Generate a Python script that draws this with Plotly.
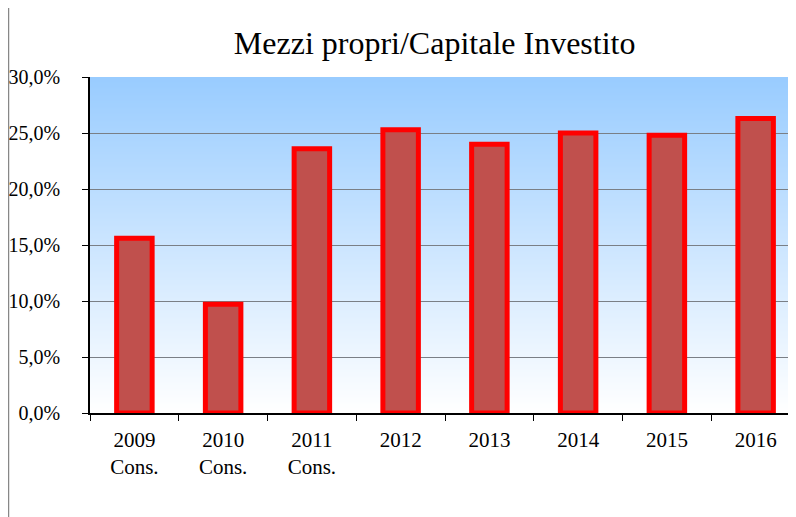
import base64
import struct
import zlib

import plotly.graph_objects as go

# dati
anni = ["2009<br>Cons.", "2010<br>Cons.", "2011<br>Cons.", "2012", "2013", "2014", "2015", "2016"]
rapporto = [15.6, 9.7, 23.6, 25.3, 24.0, 25.0, 24.8, 26.3]
tick_vals = [0, 5, 10, 15, 20, 25, 30]
tick_text = [f"{v:.1f}%".replace(".", ",") for v in tick_vals]


def gradient_png(top, bottom, h=256):
    """PNG 1xh con sfumatura verticale (per lo sfondo dell'area del grafico)"""
    raw = b""
    for i in range(h):
        t = i / (h - 1)
        px = bytes(round(top[k] + (bottom[k] - top[k]) * t) for k in range(3))
        raw += b"\x00" + px

    def chunk(tag, data):
        c = struct.pack(">I", len(data)) + tag + data
        return c + struct.pack(">I", zlib.crc32(tag + data) & 0xFFFFFFFF)

    png = b"\x89PNG\r\n\x1a\n"
    png += chunk(b"IHDR", struct.pack(">IIBBBBB", 1, h, 8, 2, 0, 0, 0))
    png += chunk(b"IDAT", zlib.compress(raw))
    png += chunk(b"IEND", b"")
    return "data:image/png;base64," + base64.b64encode(png).decode()


fig = go.Figure()

fig.add_trace(
    go.Bar(
        x=anni, y=rapporto,
        marker=dict(color="#C0504D", line=dict(color="#FF0000", width=5)),
        showlegend=False,
        hovertemplate="%{y:.1f}%<extra></extra>",
    )
)

font = "Liberation Serif, Times New Roman, serif"

# la pagina ha 8px di margine nel body: il grafico parte da (8, 8)
fig.update_layout(
    width=796, height=517,
    margin=dict(l=82, r=4, t=69, b=112),
    paper_bgcolor="white",
    plot_bgcolor="rgba(0,0,0,0)",
    bargap=0.6,
    font=dict(family=font, color="black", size=21),
    title=dict(
        text="Mezzi propri/Capitale Investito",
        x=0.536, xanchor="center", xref="container",
        y=1 - 35 / 517, yanchor="middle",
        font=dict(family=font, size=32, color="black"),
    ),
    images=[dict(
        source=gradient_png((153, 204, 255), (255, 255, 255)),
        xref="paper", yref="paper", x=0, y=1, sizex=1, sizey=1,
        sizing="stretch", xanchor="left", yanchor="top", layer="below",
    )],
    shapes=[dict(
        type="line", xref="paper", yref="paper",
        x0=-0.1148, x1=-0.1148, y0=-0.5, y1=1.3,
        line=dict(color="#878787", width=1.5),
    )],
)

fig.update_yaxes(
    range=[0, 30], tickvals=tick_vals, ticktext=tick_text,
    showgrid=True, gridcolor="#7a7f86", gridwidth=1.2,
    showline=True, linecolor="black", linewidth=1.5,
    ticks="outside", ticklen=6, tickcolor="black",
    ticklabelstandoff=18, zeroline=False, automargin=False,
    tickfont=dict(size=20),
)
fig.update_xaxes(
    showline=True, linecolor="black", linewidth=1.5,
    ticks="outside", ticklen=6, tickcolor="black", tickson="boundaries",
    ticklabelstandoff=7, automargin=False, tickfont=dict(size=21),
)

fig.write_html("out.html")
